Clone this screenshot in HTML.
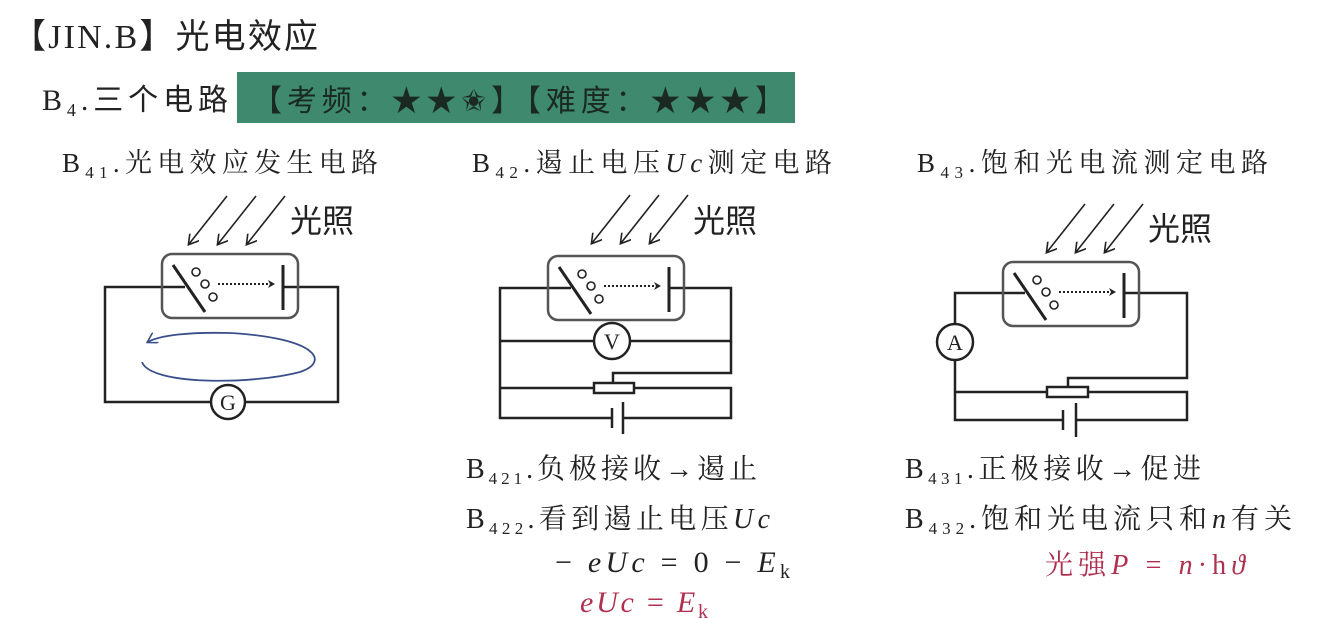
<!DOCTYPE html>
<html><head><meta charset="utf-8">
<style>
html,body{margin:0;padding:0;background:#fff;}
svg{display:block;}
text{font-family:"Liberation Serif","Noto Serif CJK SC",serif;fill:#222;}
.k{font-family:"Liberation Serif","Noto Sans CJK SC",sans-serif;}
</style></head><body>
<svg width="1320" height="618" viewBox="0 0 1320 618" xmlns="http://www.w3.org/2000/svg">
<defs>
<marker id="ah" markerWidth="8" markerHeight="8" refX="6" refY="4" orient="auto" markerUnits="userSpaceOnUse"><path d="M0,0 L7,4 L0,8 L2,4 Z" fill="#222"/></marker>
<marker id="ah2" markerWidth="12" markerHeight="12" refX="9" refY="6" orient="auto" markerUnits="userSpaceOnUse"><path d="M0,0 L10,6 L0,12" fill="none" stroke="#222" stroke-width="1.6"/></marker>
<marker id="ab" markerWidth="12" markerHeight="12" refX="9" refY="6" orient="auto" markerUnits="userSpaceOnUse"><path d="M0,0 L10,6 L0,12" fill="none" stroke="#3a4f8a" stroke-width="1.6"/></marker>
<g id="tube">
<rect x="0" y="0" width="136" height="64" rx="10" fill="none" stroke="#555" stroke-width="2.5"/>
<line x1="11" y1="11" x2="43" y2="58" stroke="#222" stroke-width="3"/>
<line x1="121" y1="11" x2="121" y2="56" stroke="#222" stroke-width="3"/>
<circle cx="34" cy="18" r="4" fill="none" stroke="#222" stroke-width="1.6"/>
<circle cx="43" cy="30" r="4" fill="none" stroke="#222" stroke-width="1.6"/>
<circle cx="51" cy="43" r="4" fill="none" stroke="#222" stroke-width="1.6"/>
<line x1="56" y1="30" x2="112" y2="30" stroke="#222" stroke-width="2" stroke-dasharray="2,2" marker-end="url(#ah)"/>
</g>
<g id="light">
<line x1="0" y1="0" x2="-38" y2="48" stroke="#222" stroke-width="1.6" marker-end="url(#ah2)"/>
<line x1="29" y1="0" x2="-9" y2="48" stroke="#222" stroke-width="1.6" marker-end="url(#ah2)"/>
<line x1="58" y1="0" x2="20" y2="48" stroke="#222" stroke-width="1.6" marker-end="url(#ah2)"/>
</g>
</defs>

<text x="12" y="48" font-size="34" class="k" textLength="306" lengthAdjust="spacing">【JIN.B】光电效应</text>
<text x="42" y="110" font-size="30" class="k" textLength="186" lengthAdjust="spacing">B<tspan font-size="18" dy="6">4</tspan><tspan dy="-6">.三个电路</tspan></text>
<rect x="237" y="72" width="558" height="51" fill="#3f8a6e"/>
<text x="252" y="111" font-size="30" class="k" style="fill:#1a2a22" textLength="533" lengthAdjust="spacing">【考频：★★✬】【难度：★★★】</text>

<text x="62" y="172" font-size="27" textLength="316" lengthAdjust="spacing">B<tspan font-size="17" dy="6">41</tspan><tspan dy="-6">.光电效应发生电路</tspan></text>
<text x="472" y="172" font-size="27" textLength="360" lengthAdjust="spacing">B<tspan font-size="17" dy="6">42</tspan><tspan dy="-6">.遏止电压<tspan font-style="italic">Uc</tspan>测定电路</tspan></text>
<text x="917" y="172" font-size="27" textLength="351" lengthAdjust="spacing">B<tspan font-size="17" dy="6">43</tspan><tspan dy="-6">.饱和光电流测定电路</tspan></text>

<g stroke="#222" stroke-width="2.5" fill="none">
<polyline points="185,287 105,287 105,402 211,402"/>
<polyline points="283,287 338,287 338,402 245,402"/>
<circle cx="228" cy="402" r="17" fill="#fff"/>
<polyline points="571,288 500,288 500,418 612,418"/>
<polyline points="669,288 731,288 731,341 630,341"/>
<line x1="500" y1="341" x2="594" y2="341"/>
<circle cx="612" cy="341" r="18" fill="#fff"/>
<polyline points="613,383 613,373 731,373 731,341"/>
<line x1="500" y1="388" x2="594" y2="388"/>
<polyline points="634,388 731,388 731,418 623,418"/>
<rect x="594" y="383" width="40" height="10" fill="#fff"/>
<line x1="612" y1="408" x2="612" y2="428"/>
<line x1="623" y1="402" x2="623" y2="434"/>
<polyline points="1025,293 955,293 955,324"/>
<polyline points="955,360 955,420 1063,420"/>
<polyline points="1123,293 1187,293 1187,378 1068,378 1068,387"/>
<line x1="955" y1="392" x2="1047" y2="392"/>
<polyline points="1088,392 1187,392 1187,420 1076,420"/>
<rect x="1047" y="387" width="41" height="10" fill="#fff"/>
<circle cx="955" cy="342" r="18" fill="#fff"/>
<line x1="1063" y1="410" x2="1063" y2="430"/>
<line x1="1076" y1="403" x2="1076" y2="437"/>
</g>
<use href="#tube" x="162" y="254"/>
<use href="#tube" x="548" y="256"/>
<use href="#tube" x="1003" y="262"/>
<use href="#light" x="227" y="196"/>
<use href="#light" x="630" y="195"/>
<use href="#light" x="1085" y="204"/>
<text x="290" y="232" font-size="32" class="k">光照</text>
<text x="693" y="232" font-size="32" class="k">光照</text>
<text x="1148" y="240" font-size="32" class="k">光照</text>
<text x="228" y="410" font-size="22" text-anchor="middle" class="k">G</text>
<text x="612" y="349" font-size="22" text-anchor="middle" class="k">V</text>
<text x="955" y="350" font-size="22" text-anchor="middle" class="k">A</text>
<path d="M142,362 C150,385 250,385 300,372 C330,362 318,338 230,333 C190,332 160,335 148,342" fill="none" stroke="#3a4f8a" stroke-width="1.8" marker-end="url(#ab)"/>

<text x="466" y="478" font-size="28" textLength="291" lengthAdjust="spacing">B<tspan font-size="17" dy="6">421</tspan><tspan dy="-6">.负极接收→遏止</tspan></text>
<text x="466" y="528" font-size="28" textLength="304" lengthAdjust="spacing">B<tspan font-size="17" dy="6">422</tspan><tspan dy="-6">.看到遏止电压<tspan font-style="italic">Uc</tspan></tspan></text>
<text x="555" y="572" font-size="30" textLength="235" lengthAdjust="spacing">− <tspan font-style="italic">eUc</tspan> = 0 − <tspan font-style="italic">E</tspan><tspan font-size="20" dy="6">k</tspan></text>
<text x="580" y="612" font-size="30" style="fill:#b0304f" textLength="128" lengthAdjust="spacing"><tspan font-style="italic">eUc</tspan> = <tspan font-style="italic">E</tspan><tspan font-size="20" dy="6">k</tspan></text>
<text x="905" y="478" font-size="28" textLength="296" lengthAdjust="spacing">B<tspan font-size="17" dy="6">431</tspan><tspan dy="-6">.正极接收→促进</tspan></text>
<text x="905" y="528" font-size="28" textLength="387" lengthAdjust="spacing">B<tspan font-size="17" dy="6">432</tspan><tspan dy="-6">.饱和光电流只和<tspan font-style="italic">n</tspan>有关</tspan></text>
<text x="1045" y="574" font-size="28" style="fill:#b0304f" textLength="200" lengthAdjust="spacing">光强<tspan font-style="italic">P</tspan> = <tspan font-style="italic">n</tspan>·h<tspan font-style="italic">ϑ</tspan></text>
</svg>
</body></html>
